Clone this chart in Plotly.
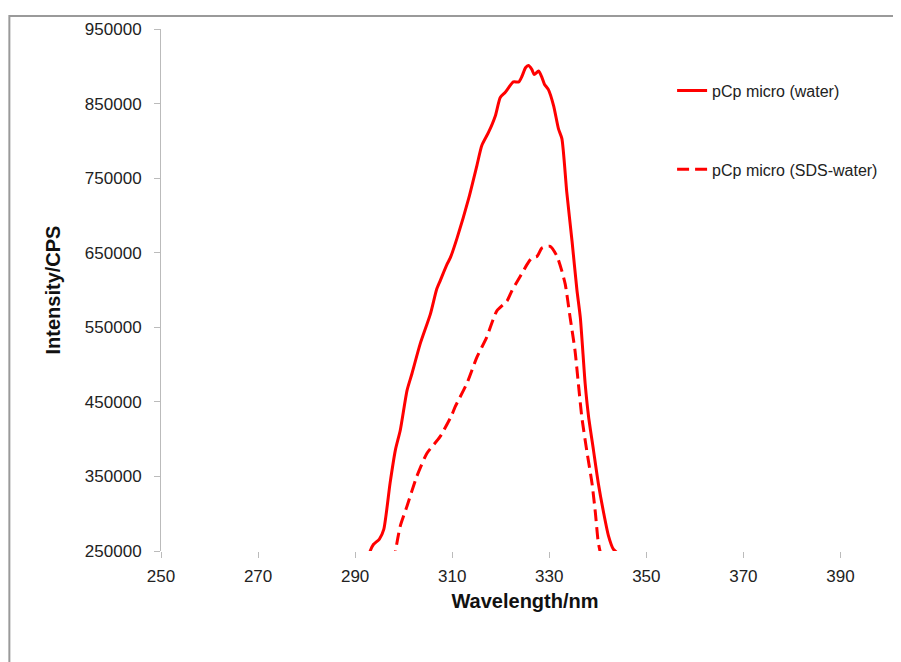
import plotly.graph_objects as go

# Water (solid)
water_x = [292.5, 293.1, 293.8, 295.0, 295.9, 297.2, 298.3, 299.3, 300.7, 301.7, 303.4, 305.5,
           306.8, 307.5, 308.9, 309.6, 311.0, 313.4, 315.1, 316.1, 317.5, 318.9, 319.9, 320.9,
           322.6, 323.7, 324.4, 325.1, 325.7, 326.4, 326.9, 327.8, 328.5, 329.0, 329.8, 330.9,
           331.9, 332.6, 333.6, 334.7, 335.7, 336.4, 337.4, 338.1, 339.1, 340.1, 341.2, 342.2,
           343.2, 344.5]
water_y = [235000, 250000, 259000, 266000, 279000, 341000, 385600, 412000, 465500, 487700, 527700, 567600,
           601000, 612000, 634000, 643000, 669600, 722800, 767200, 793800, 811600, 833800, 858200, 864800,
           879000, 879000, 887000, 898000, 901000, 895800, 889000, 893600, 884800, 876000, 869000, 847000,
           816000, 803000, 731700, 665000, 600000, 563000, 474000, 430000, 385600, 341000, 301400, 270300,
           252500, 245000]

# SDS-water (dashed)
sds_x = [297.8, 298.3, 299.3, 300.7, 302.7, 304.8, 307.5, 309.9, 310.6, 313.0, 315.1, 317.1,
         319.2, 321.3, 322.3, 324.0, 325.4, 326.4, 327.5, 328.5, 330.2, 331.6, 332.6, 333.3,
         334.3, 335.3, 336.0, 336.7, 337.7, 338.8, 339.5, 340.1, 340.8]
sds_y = [235000, 250000, 283500, 310300, 350000, 381000, 403300, 432000, 443300, 474400, 510000, 536500,
         572000, 585400, 599000, 618000, 634000, 643000, 645200, 656300, 658600, 645200, 625300, 607600,
         563000, 519000, 474000, 430000, 385600, 341000, 301400, 261400, 240000]

x_ticks = [250, 270, 290, 310, 330, 350, 370, 390]
y_ticks = [250000, 350000, 450000, 550000, 650000, 750000, 850000, 950000]

OFF = 8  # page body margin
W, H = 901 - OFF, 662 - OFF
L, R, T, B = 160.7 - OFF, 889.0 - OFF, 25.0 - OFF, 551.5 - OFF
pw, ph = R - L, B - T

fig = go.Figure()
fig.add_trace(go.Scatter(x=water_x, y=water_y, mode="lines", name="pCp micro (water)",
                         legendgroup="a", line=dict(color="#ff0000", width=3, shape="spline", smoothing=0.6)))
fig.add_trace(go.Scatter(x=sds_x, y=sds_y, mode="lines", name="pCp micro (SDS-water)",
                         legendgroup="b", line=dict(color="#ff0000", width=3, dash="12px,6px", shape="spline", smoothing=0.6)))

font = "Liberation Sans, Arial, sans-serif"
fig.update_layout(
    width=W, height=H,
    margin=dict(l=L, r=W - R, t=T, b=H - B, pad=0),
    paper_bgcolor="white", plot_bgcolor="white",
    font=dict(family=font, size=17, color="#222"),
    showlegend=True,
    legend=dict(x=(672 - OFF - L) / pw, y=1 - (70 - OFF - T) / ph, xanchor="left", yanchor="top",
                bgcolor="rgba(0,0,0,0)", font=dict(size=16, color="#222"),
                tracegroupgap=55, traceorder="grouped"),
    xaxis=dict(range=[250, 400], tickvals=x_ticks, ticktext=[str(v) for v in x_ticks],
               showgrid=False, zeroline=False, showline=False,
               ticks="outside", ticklen=6, tickcolor="#bbbbbb", tickwidth=1,
               ticklabelstandoff=4,
               title=dict(text="<b>Wavelength/nm</b>", font=dict(size=20, color="#111"), standoff=8)),
    yaxis=dict(range=[250000, 950000], tickvals=y_ticks, ticktext=[str(v) for v in y_ticks],
               showgrid=False, zeroline=False, showline=True, linecolor="#bbbbbb", linewidth=1,
               ticks="outside", ticklen=6, tickcolor="#bbbbbb", tickwidth=1,
               ticklabelstandoff=9,
               title=dict(text="<b>Intensity/CPS</b>", font=dict(size=20, color="#111"), standoff=18)),
    shapes=[dict(type="rect", xref="paper", yref="paper",
                 x0=(9 - OFF - L) / pw, x1=(910 - OFF - L) / pw,
                 y0=-(680 - OFF - B) / ph, y1=1 + (T - (12 - OFF)) / ph,
                 line=dict(color="#9a9a9a", width=2), fillcolor="rgba(0,0,0,0)", layer="below")],
)

fig.write_html("out.html")
